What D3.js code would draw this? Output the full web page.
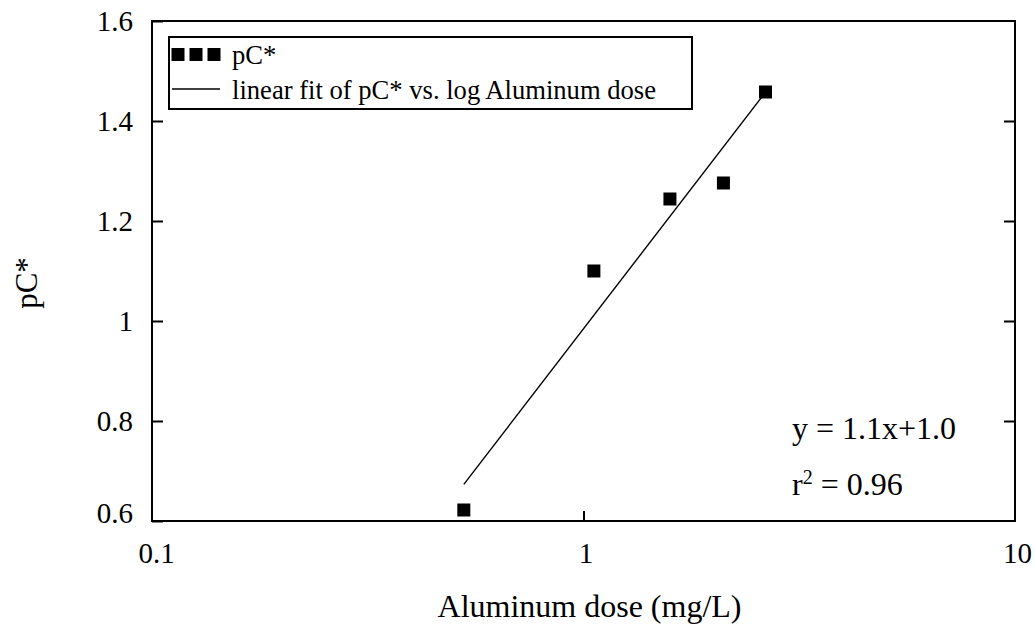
<!DOCTYPE html>
<html>
<head>
<meta charset="utf-8">
<script src="https://cdn.jsdelivr.net/npm/d3@7"></script>
<style>
  html, body { margin: 0; padding: 0; background: #fff; }
  svg { display: block; }
  text { font-family: "Liberation Serif", "Times New Roman", serif; fill: #000; }
</style>
</head>
<body>
<svg id="chart" width="1035" height="630"></svg>
<script>
// Aluminum dose (mg/L) and measured pC*
const doses = [0.528, 1.057, 1.586, 2.11, 2.641];
const pC = [0.622, 1.100, 1.244, 1.276, 1.458];

// axis ticks and their labels
const yTicks = [0.6, 0.8, 1.0, 1.2, 1.4, 1.6];
const yTickLabels = ["0.6", "0.8", "1", "1.2", "1.4", "1.6"];
const xTicks = [0.1, 1, 10];
const xTickLabels = ["0.1", "1", "10"];

const legendLabels = ["pC*", "linear fit of pC* vs. log Aluminum dose"];

// least-squares fit of pC* against log10(dose)
const lx = doses.map(d => Math.log10(d));
const n = lx.length;
const mx = d3.mean(lx), my = d3.mean(pC);
let sxy = 0, sxx = 0, syy = 0;
for (let i = 0; i < n; i++) {
  sxy += (lx[i] - mx) * (pC[i] - my);
  sxx += (lx[i] - mx) ** 2;
  syy += (pC[i] - my) ** 2;
}
const slope = sxy / sxx;
const intercept = my - slope * mx;
const r2 = (sxy * sxy) / (sxx * syy);

const svg = d3.select("#chart");
const plotL = 152, plotR = 1015, plotT = 21, plotB = 521;

const x = d3.scaleLog().domain([0.1, 10]).range([plotL, plotR]);
const y = d3.scaleLinear().domain([0.6, 1.6]).range([plotB, plotT]);

// frame
svg.append("rect")
  .attr("x", plotL).attr("y", plotT)
  .attr("width", plotR - plotL).attr("height", plotB - plotT)
  .attr("fill", "none").attr("stroke", "#000").attr("stroke-width", 2);

// left axis: inward ticks with labels
const yAxis = svg.append("g")
  .attr("transform", `translate(${plotL},0)`)
  .call(d3.axisLeft(y).tickValues(yTicks)
    .tickFormat((d, i) => yTickLabels[i])
    .tickSizeInner(-11).tickSizeOuter(0).tickPadding(19));
yAxis.select(".domain").remove();
yAxis.selectAll("line").attr("stroke", "#000").attr("stroke-width", 2);
yAxis.selectAll("text")
  .attr("font-size", 29)
  .attr("font-family", "Liberation Serif")
  .attr("dy", (d, i) => i === 0 ? "0.05em" : "0.33em");

// right axis: inward ticks only
const yAxisR = svg.append("g")
  .attr("transform", `translate(${plotR},0)`)
  .call(d3.axisRight(y).tickValues(yTicks.slice(1, -1))
    .tickFormat("").tickSizeInner(-11).tickSizeOuter(0));
yAxisR.select(".domain").remove();
yAxisR.selectAll("line").attr("stroke", "#000").attr("stroke-width", 2);

// bottom axis
const xAxis = svg.append("g")
  .attr("transform", `translate(0,${plotB})`)
  .call(d3.axisBottom(x).tickValues(xTicks)
    .tickFormat((d, i) => xTickLabels[i])
    .tickSizeInner(-10).tickSizeOuter(0).tickPadding(21));
xAxis.select(".domain").remove();
xAxis.selectAll("line").attr("stroke", "#000").attr("stroke-width", 2)
  .attr("display", d => (d === 1 ? null : "none"));
xAxis.selectAll("text")
  .attr("font-size", 29)
  .attr("font-family", "Liberation Serif")
  .attr("dx", (d, i) => i === 0 ? 4 : 2);

// axis titles
svg.append("text")
  .attr("x", (plotL + plotR) / 2 + 6).attr("y", 617)
  .attr("text-anchor", "middle").attr("font-size", 32)
  .text("Aluminum dose (mg/L)");

svg.append("text")
  .attr("transform", "translate(37,283) rotate(-90)")
  .attr("text-anchor", "middle").attr("font-size", 31)
  .text("pC*");

// fit line across the data range
const [xMin, xMax] = d3.extent(doses);
const fitLine = d3.line()
  .x(d => x(d))
  .y(d => y(slope * Math.log10(d) + intercept));
svg.append("path")
  .datum([xMin, xMax])
  .attr("d", fitLine)
  .attr("fill", "none").attr("stroke", "#000").attr("stroke-width", 1.4);

// data points
const ms = 13;
svg.append("g").selectAll("rect")
  .data(doses)
  .join("rect")
  .attr("x", d => x(d) - ms / 2)
  .attr("y", (d, i) => y(pC[i]) - ms / 2)
  .attr("width", ms).attr("height", ms)
  .attr("fill", "#000");

// legend
const lg = svg.append("g");
lg.append("rect")
  .attr("x", 169).attr("y", 37).attr("width", 523).attr("height", 72)
  .attr("fill", "#fff").attr("stroke", "#000").attr("stroke-width", 2);
[178, 196, 214].forEach(cx => {
  lg.append("rect")
    .attr("x", cx - 6.5).attr("y", 48).attr("width", 13).attr("height", 13)
    .attr("fill", "#000");
});
lg.append("line")
  .attr("x1", 172).attr("x2", 220).attr("y1", 89).attr("y2", 89)
  .attr("stroke", "#000").attr("stroke-width", 1.4);
lg.selectAll("text.leg")
  .data(legendLabels)
  .join("text")
  .attr("class", "leg")
  .attr("x", 232).attr("y", (d, i) => 64 + i * 35)
  .attr("font-size", 26.6)
  .text(d => d);

// fit statistics
const f1 = d3.format(".1f"), f2 = d3.format(".2f");
svg.append("text")
  .attr("x", 792).attr("y", 439).attr("font-size", 32)
  .text(`y = ${f1(slope)}x+${f1(intercept)}`);
const rt = svg.append("text")
  .attr("x", 792).attr("y", 495).attr("font-size", 32);
rt.append("tspan").text("r");
rt.append("tspan").attr("dy", -11).attr("font-size", 20).text("2");
rt.append("tspan").attr("dy", 11).text(` = ${f2(r2)}`);
</script>
</body>
</html>
